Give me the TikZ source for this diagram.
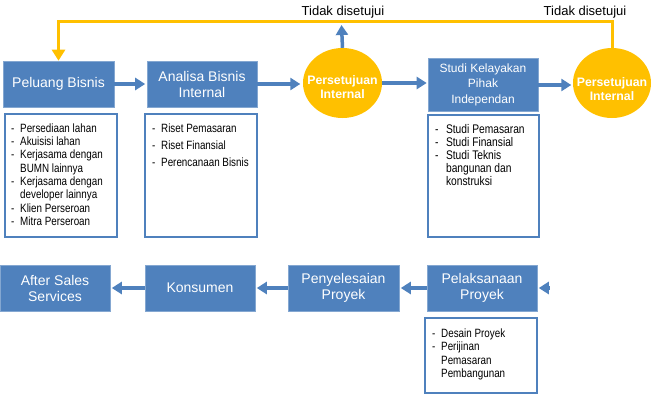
\documentclass[tikz,border=0pt]{standalone}
\usepackage{fontspec}
\setmainfont{Liberation Sans}
\newfontfamily\narrowfont[FakeStretch=0.82]{Liberation Sans}
\usetikzlibrary{arrows.meta,shapes.geometric}
\definecolor{boxblue}{HTML}{4F81BD}
\definecolor{gold}{HTML}{FFC000}
\newcommand{\dsh}[1][9pt]{\makebox[#1][l]{-}}
\newcommand{\ind}[1][9pt]{\hspace*{#1}}
\begin{document}
\begin{tikzpicture}[x=1pt,y=-1pt,
  mainbox/.style={draw=boxblue!70!white, line width=0.6pt, fill=boxblue, text=white,
    minimum width=110pt, minimum height=46pt, inner sep=0pt, align=center,
    font=\fontsize{14}{16}\selectfont},
  approve/.style={ellipse, fill=gold, minimum width=79pt, minimum height=70pt, inner sep=0pt},
  approvetext/.style={inner sep=0pt, text=white, align=center, font=\bfseries\fontsize{12.3}{14}\selectfont},
  detbox/.style={draw=boxblue, line width=2pt, fill=white, inner sep=0pt},
  dettext/.style={inner sep=0pt, anchor=base west, text=black},
  bluearrow/.style={draw=boxblue, line width=3.5pt, -{Triangle[length=10pt,width=12pt]}},
  goldarrow/.style={draw=gold, line width=3pt, -{Triangle[length=11pt,width=13pt]}},
  lbl/.style={inner sep=0pt, text=black, font=\fontsize{13}{15}\selectfont}
]
\useasboundingbox (0,0) rectangle (654,402);

% top row
\node[mainbox, minimum width=111pt] (peluang) at (58.5,84) {Peluang Bisnis};
\node[mainbox] (analisa) at (202,84) {Analisa Bisnis\\Internal};
\node[approve] (p1) at (342.5,83) {};
\node[approvetext] (p1t) at (342.5,87) {Persetujuan\\Internal};
\node[mainbox, minimum height=53pt, font=\fontsize{12}{15.5}\selectfont] (studi) at (483,84.5) {Studi Kelayakan\\Pihak\\Independan};
\node[approve, minimum width=78pt] (p2) at (612,83) {};
\node[approvetext] (p2t) at (612,89) {Persetujuan\\Internal};

% detail boxes
\node[detbox, minimum width=112pt, minimum height=123pt] (d1) at (61,175.5) {};
\node[detbox, minimum width=112pt, minimum height=123pt] (d2) at (201,175.5) {};
\node[detbox, minimum width=111pt, minimum height=122pt] (d3) at (483.5,176) {};
\node[detbox, minimum width=112pt, minimum height=75pt] (d4) at (481,355.5) {};

\node[dettext, font=\narrowfont\fontsize{12}{13.3}\selectfont] (t1) at (11,132.3) {%
\begin{tabular}[t]{@{}l@{}}
\dsh Persediaan lahan\\
\dsh Akuisisi lahan\\
\dsh Kerjasama dengan\\
\ind BUMN lainnya\\
\dsh Kerjasama dengan\\
\ind developer lainnya\\
\dsh Klien Perseroan\\
\dsh Mitra Perseroan
\end{tabular}};
\node[dettext, font=\narrowfont\fontsize{12}{17}\selectfont] (t2) at (152,132.5) {%
\begin{tabular}[t]{@{}l@{}}
\dsh Riset Pemasaran\\
\dsh Riset Finansial\\
\dsh Perencanaan Bisnis
\end{tabular}};
\node[dettext, font=\narrowfont\fontsize{12.5}{13}\selectfont] (t3) at (435,133.3) {%
\begin{tabular}[t]{@{}l@{}}
\dsh[8pt] Studi Pemasaran\\
\dsh[8pt] Studi Finansial\\
\dsh[8pt] Studi Teknis\\
\ind[8pt] bangunan dan\\
\ind[8pt] konstruksi
\end{tabular}};
\node[dettext, font=\narrowfont\fontsize{12}{13.3}\selectfont] (t4) at (432,337.5) {%
\begin{tabular}[t]{@{}l@{}}
\dsh Desain Proyek\\
\dsh Perijinan\\
\ind Pemasaran\\
\ind Pembangunan
\end{tabular}};

% bottom row
\node[mainbox] (after) at (55,288) {After Sales\\Services};
\node[mainbox] (konsumen) at (200,288) {Konsumen};
\node[mainbox, minimum width=111pt] (penyel) at (343.5,288) {Penyelesaian\\Proyek};
\node[mainbox] (pelak) at (482,288) {Pelaksanaan\\Proyek};

% labels
\node[lbl] (l1) at (343,12) {Tidak disetujui};
\node[lbl] (l2) at (585,12) {Tidak disetujui};

% coordinates
\coordinate (ytop) at (0,21);
\coordinate (up1) at (341.5,25);
\coordinate (inR) at (549.5,288);

% top arrows
\draw[bluearrow, shorten >=1.5pt] (peluang.east) -- (analisa.west);
\draw[bluearrow, shorten >=2.5pt] (analisa.east) -- (analisa.east -| p1.west);
\draw[bluearrow, shorten >=1pt] (p1.east |- 0,83) -- (studi.west |- 0,83);
\draw[bluearrow, shorten >=1.5pt] (studi.east |- 0,85) -- (p2.west |- 0,85);
\draw[bluearrow] (p1.north) -- (up1);

% yellow feedback
\draw[goldarrow] (p2.north) -- (p2.north |- ytop) -- (peluang.north |- ytop) -- (peluang.north);

% bottom arrows
\draw[bluearrow, shorten >=1.5pt] (inR) -- (pelak.east);
\draw[bluearrow, shorten >=1.5pt] (pelak.west) -- (penyel.east);
\draw[bluearrow, shorten >=1.5pt] (penyel.west) -- (konsumen.east);
\draw[bluearrow, shorten >=1.5pt] (konsumen.west) -- (after.east);
\end{tikzpicture}
\end{document}
